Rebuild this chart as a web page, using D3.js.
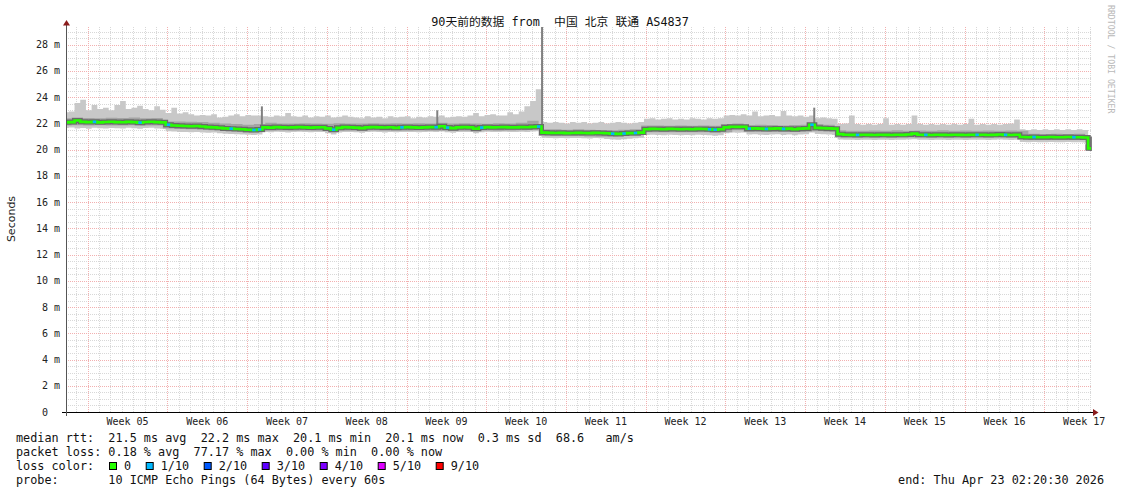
<!DOCTYPE html>
<html><head><meta charset="utf-8">
<script src="https://cdn.jsdelivr.net/npm/d3@7"></script>
<style>
body{margin:0;background:#fff}
svg{display:block}
text{white-space:pre}
</style>
</head><body>
<svg id="c" width="1121" height="494"></svg>
<script>
// ---------------- data ----------------
const chartTitle = "90天前的数据 from  中国 北京 联通 AS4837";
const yAxisTitle = "Seconds";
const watermark = "RRDTOOL / TOBI OETIKER";
const startTime = "2026-01-23T02:20:30Z";
const endTime = "2026-04-23T02:20:30Z";
const weekLabels = ["Week 05","Week 06","Week 07","Week 08","Week 09","Week 10","Week 11","Week 12","Week 13","Week 14","Week 15","Week 16","Week 17"];
const yTicks = [0,2,4,6,8,10,12,14,16,18,20,22,24,26,28];
const yMax = 29.35;

// 12-hour samples (ms)
const medianRtt = [
 22.08,22.10,22.22,22.12,22.10,22.12,22.08,22.11,22.13,22.10,
 22.09,22.12,22.10,22.06,22.11,22.13,22.10,22.08,21.90,21.84,
 21.82,21.80,21.78,21.80,21.76,21.72,21.70,21.66,21.62,21.60,
 21.57,21.55,21.52,21.50,21.54,21.70,21.68,21.72,21.70,21.69,
 21.70,21.72,21.70,21.68,21.70,21.71,21.62,21.52,21.66,21.72,
 21.70,21.68,21.64,21.70,21.72,21.70,21.69,21.71,21.66,21.70,
 21.72,21.70,21.68,21.70,21.72,21.71,21.78,21.68,21.64,21.70,
 21.72,21.70,21.60,21.68,21.72,21.70,21.71,21.72,21.70,21.70,
 21.72,21.71,21.74,21.76,21.30,21.28,21.27,21.28,21.26,21.27,
 21.28,21.27,21.26,21.28,21.27,21.25,21.22,21.20,21.23,21.26,
 21.27,21.30,21.56,21.58,21.57,21.56,21.58,21.57,21.55,21.57,
 21.56,21.58,21.57,21.55,21.52,21.55,21.70,21.75,21.74,21.75,
 21.60,21.62,21.60,21.58,21.60,21.62,21.58,21.60,21.55,21.60,
 21.62,21.90,21.66,21.64,21.62,21.60,21.18,21.14,21.13,21.12,
 21.14,21.13,21.12,21.14,21.13,21.12,21.14,21.13,21.15,21.22,
 21.14,21.13,21.12,21.14,21.13,21.12,21.14,21.13,21.12,21.14,
 21.13,21.14,21.12,21.13,21.15,21.13,21.12,21.14,20.96,20.95,
 20.96,20.94,20.95,20.96,20.95,20.94,20.96,20.95,20.94,20.93,20.10
];
const maxPing = [
 22.85,22.90,23.55,23.80,23.00,23.40,23.10,23.20,23.00,23.40,
 23.70,23.10,23.20,23.35,23.10,23.00,23.30,23.05,22.80,23.20,
 22.75,22.85,22.70,22.60,22.65,22.60,22.70,22.45,22.50,22.60,
 22.70,22.55,22.65,22.60,22.60,22.55,22.50,22.60,22.55,22.80,
 22.55,22.50,22.60,22.45,22.55,22.50,22.60,22.45,22.50,22.60,
 22.50,22.45,22.40,22.55,22.45,22.50,22.40,22.55,22.45,22.50,
 22.55,22.40,22.50,22.45,22.55,22.50,22.60,22.45,22.50,22.55,
 22.50,22.60,22.80,22.55,22.65,22.70,22.60,22.60,22.85,22.70,
 22.90,23.30,23.70,24.60,22.10,22.05,22.10,22.05,22.00,22.10,
 22.05,22.10,22.00,22.05,22.10,22.00,22.05,22.10,22.05,22.00,
 22.05,22.10,22.35,22.40,22.30,22.35,22.40,22.30,22.35,22.30,
 22.40,22.35,22.30,22.40,22.35,22.40,22.60,22.65,22.60,22.70,
 22.60,22.90,22.55,22.60,22.65,22.55,22.95,22.60,22.55,22.60,
 22.50,22.60,22.40,22.45,22.40,22.35,21.95,22.00,22.60,21.95,
 21.90,21.95,21.90,21.95,22.40,21.90,21.95,21.90,21.95,22.60,
 21.95,21.90,21.95,21.90,21.95,21.90,21.95,21.90,21.95,22.35,
 21.90,21.95,21.90,21.95,21.90,21.95,22.00,22.30,21.55,21.50,
 21.55,21.50,21.55,21.50,21.55,21.50,21.55,21.50,21.55,21.50,20.30
];
const minPing = [
 21.65,21.68,21.62,21.65,21.60,21.66,21.64,21.62,21.65,21.63,
 21.62,21.66,21.64,21.60,21.65,21.66,21.62,21.60,21.40,21.38,
 21.35,21.34,21.32,21.35,21.30,21.28,21.30,21.25,21.22,21.20,
 21.18,21.16,21.14,21.12,21.15,21.35,21.32,21.36,21.34,21.30,
 21.35,21.36,21.34,21.32,21.35,21.34,21.25,21.15,21.30,21.35,
 21.34,21.32,21.28,21.35,21.36,21.34,21.30,21.35,21.32,21.34,
 21.35,21.34,21.32,21.35,21.36,21.34,21.38,21.32,21.28,21.34,
 21.35,21.34,21.25,21.32,21.36,21.34,21.35,21.36,21.34,21.34,
 21.36,21.35,21.38,21.40,20.90,20.88,20.86,20.88,20.86,20.88,
 20.88,20.86,20.85,20.88,20.86,20.82,20.78,20.76,20.80,20.84,
 20.86,20.90,21.12,21.14,21.12,21.10,21.14,21.12,21.10,21.12,
 21.10,21.14,21.12,21.10,21.06,21.10,21.25,21.30,21.28,21.30,
 21.15,21.18,21.14,21.12,21.15,21.18,21.12,21.15,21.10,21.15,
 21.18,21.30,21.20,21.18,21.15,21.12,20.78,20.76,20.75,20.74,
 20.76,20.75,20.74,20.76,20.75,20.74,20.76,20.75,20.77,20.80,
 20.76,20.75,20.74,20.76,20.75,20.74,20.76,20.75,20.74,20.76,
 20.75,20.76,20.74,20.75,20.77,20.75,20.74,20.76,20.58,20.56,
 20.58,20.56,20.57,20.58,20.57,20.56,20.58,20.57,20.56,20.55,19.90
];
// daily samples (ms) of the inner smoke band
const upperSmoke = [
 22.40,22.45,22.42,22.40,22.44,22.42,22.45,22.40,22.42,22.15,
 22.15,22.12,22.10,22.05,22.00,21.95,21.90,21.95,22.05,22.00,
 22.00,22.02,22.00,21.98,22.02,22.00,22.00,22.02,22.00,22.02,
 22.00,22.02,22.00,22.05,22.00,22.02,22.00,21.98,22.02,22.00,
 22.05,22.20,21.55,21.55,21.52,21.55,21.52,21.50,21.48,21.52,
 21.55,21.85,21.85,21.82,21.85,21.82,21.85,21.82,21.95,22.00,
 21.88,21.90,21.88,21.85,21.88,21.90,21.95,21.90,21.48,21.45,
 21.45,21.46,21.45,21.48,21.45,21.46,21.45,21.47,21.45,21.46,
 21.45,21.46,21.45,21.46,21.45,21.22,21.20,21.22,21.20,21.22,20.40
];
const lowerSmoke = [
 21.85,21.86,21.84,21.86,21.85,21.84,21.86,21.85,21.84,21.62,
 21.58,21.56,21.52,21.48,21.44,21.40,21.30,21.32,21.45,21.46,
 21.45,21.46,21.44,21.45,21.46,21.45,21.44,21.46,21.45,21.46,
 21.45,21.46,21.44,21.45,21.46,21.45,21.44,21.46,21.45,21.46,
 21.48,21.50,21.05,21.04,21.05,21.04,21.00,20.98,21.00,21.04,
 21.05,21.32,21.33,21.32,21.33,21.32,21.33,21.30,21.32,21.48,
 21.35,21.36,21.35,21.34,21.35,21.36,21.40,21.36,20.92,20.92,
 20.92,20.93,20.92,20.93,20.92,20.93,20.92,20.93,20.92,20.93,
 20.92,20.93,20.92,20.93,20.92,20.74,20.73,20.74,20.73,20.74,19.95
];
// 12-hour sample indices with 1/10 packet loss
const lossOneTenth = [5,13,18,29,33,34,47,59,65,67,73,83,96,98,100,113,114,120,123,126,131,139,151,160,165,170,177];
// short dark smoke spikes (days since start, ms)
const spikeDay  = [17.2, 32.6, 41.8, 65.7, 90.0];
const spikeTop  = [23.3, 23.0, 40.0, 23.2, 21.0];
const spikeBase = [21.5, 21.7, 21.3, 21.6, 19.9];

const legendLines = [
 "median rtt:  21.5 ms avg  22.2 ms max  20.1 ms min  20.1 ms now  0.3 ms sd  68.6   am/s",
 "packet loss: 0.18 % avg  77.17 % max  0.00 % min  0.00 % now",
 "loss color:",
 "probe:       10 ICMP Echo Pings (64 Bytes) every 60s"
];
const lossLabels = ["0","1/10","2/10","3/10","4/10","5/10","9/10"];
const lossColors = ["#26ff00","#00b8ff","#0059ff","#5e00ff","#7e00ff","#dd00ff","#ff0000"];
const endLabel = "end: Thu Apr 23 02:20:30 2026";

// ---------------- drawing ----------------
const svg = d3.select("#c");
const mono = "'DejaVu Sans Mono', 'Noto Sans CJK SC', monospace";
const t0 = new Date(startTime), t1 = new Date(endTime);
const L = 66, R = 1091, B = 412, T = 27;
const x = d3.scaleUtc().domain([t0, t1]).range([L, R]);
const y = d3.scaleLinear().domain([0, yMax]).range([B, T]);
const HOUR = 3600e3;
const at12 = i => new Date(+t0 + i * 12 * HOUR);
const atDay = d => new Date(+t0 + d * 24 * HOUR);

svg.append("defs").append("clipPath").attr("id","plot")
  .append("rect").attr("x",L).attr("y",T).attr("width",R-L+1).attr("height",B-T);

// grid
const g = svg.append("g").attr("shape-rendering","crispEdges");
const minorCol = "#d8d8d8", majorCol = "#f2b0b0";
const minorY = d3.range(0.5, yMax, 0.5).filter(v => Math.abs(v/2 - Math.round(v/2)) > 1e-6);
g.selectAll(".hmin").data(minorY).join("line")
  .attr("x1",L).attr("x2",R+1).attr("y1",d=>Math.round(y(d))+0.5).attr("y2",d=>Math.round(y(d))+0.5)
  .attr("stroke",minorCol).attr("stroke-dasharray","1,1");
const days = d3.utcDay.range(t0, t1);
g.selectAll(".vmin").data(days).join("line")
  .attr("x1",d=>Math.round(x(d))+0.5).attr("x2",d=>Math.round(x(d))+0.5).attr("y1",T).attr("y2",B)
  .attr("stroke",minorCol).attr("stroke-dasharray","1,1");
g.selectAll(".hmaj").data(yTicks.filter(v=>v>0)).join("line")
  .attr("x1",L).attr("x2",R+1).attr("y1",d=>Math.round(y(d))+0.5).attr("y2",d=>Math.round(y(d))+0.5)
  .attr("stroke",majorCol).attr("stroke-dasharray","1,1");
const sundays = d3.utcSunday.range(t0, t1);
g.selectAll(".vmaj").data(sundays).join("line")
  .attr("x1",d=>Math.round(x(d))+0.5).attr("x2",d=>Math.round(x(d))+0.5).attr("y1",T).attr("y2",B)
  .attr("stroke",majorCol).attr("stroke-dasharray","1,1");

// smoke
const plot = svg.append("g").attr("clip-path","url(#plot)");
const idx12 = d3.range(medianRtt.length);
const outer = d3.area().curve(d3.curveStep)
  .x(i=>x(at12(i))).y0(i=>y(minPing[i])).y1(i=>y(maxPing[i]));
plot.append("path").attr("d", outer(idx12)).attr("fill","#c8c8c8");
const idxDay = d3.range(upperSmoke.length);
const inner = d3.area().curve(d3.curveStep)
  .x(d=>x(atDay(d))).y0(d=>y(lowerSmoke[d])).y1(d=>y(upperSmoke[d]));
plot.append("path").attr("d", inner(idxDay)).attr("fill","#a4a4a4");
plot.selectAll(".spike").data(spikeDay).join("line")
  .attr("x1",d=>x(atDay(d))).attr("x2",d=>x(atDay(d)))
  .attr("y1",(d,i)=>y(spikeBase[i])).attr("y2",(d,i)=>y(spikeTop[i]))
  .attr("stroke","#808080").attr("stroke-width",2);

// median line
const medLine = d3.line().curve(d3.curveStep).x(i=>x(at12(i))).y(i=>y(medianRtt[i]));
plot.append("path").attr("d", medLine(idx12)).attr("fill","none")
  .attr("stroke","#6a6a6a").attr("stroke-width",5);
plot.append("path").attr("d", medLine(idx12)).attr("fill","none")
  .attr("stroke",lossColors[0]).attr("stroke-width",2.6);
plot.selectAll(".loss").data(lossOneTenth).join("line")
  .attr("x1",i=>x(at12(i-0.3))).attr("x2",i=>x(at12(i+0.3)))
  .attr("y1",i=>y(medianRtt[i])).attr("y2",i=>y(medianRtt[i]))
  .attr("stroke",lossColors[1]).attr("stroke-width",2.6);

// axes
svg.append("line").attr("x1",62).attr("x2",1093).attr("y1",B+0.5).attr("y2",B+0.5).attr("stroke","#000");
svg.append("line").attr("x1",L+0.5).attr("x2",L+0.5).attr("y1",B+4).attr("y2",T-3).attr("stroke","#555");
svg.append("path").attr("d",`M${L-3},${T-1.5} L${L+4},${T-1.5} L${L+0.5},${T-7} Z`).attr("fill","#8b1c1c");
svg.append("path").attr("d",`M1093,${B-3} L1093,${B+4} L1098.5,${B+0.5} Z`).attr("fill","#8b1c1c");

// y labels
svg.selectAll(".ylab").data(yTicks).join("text")
  .attr("x",60).attr("y",d=>y(d)).attr("dy","0.35em").attr("text-anchor","end")
  .attr("font-family",mono).attr("font-size",10).attr("fill","#222")
  .text(d => d===0 ? "0  " : d+" m");

// x labels
svg.selectAll(".xlab").data(sundays).join("text")
  .attr("x",d=>x(new Date(+d + 3.5*24*HOUR))).attr("y",425).attr("text-anchor","middle")
  .attr("font-family",mono).attr("font-size",10).attr("fill","#222")
  .text((d,i)=>weekLabels[i]);

// titles
svg.append("text").attr("x",560).attr("y",26).attr("text-anchor","middle")
  .attr("font-family",mono).attr("font-size",11.8).attr("fill","#111").text(chartTitle);
svg.append("text").attr("transform","translate(15,219) rotate(-90)").attr("text-anchor","middle")
  .attr("font-family","'DejaVu Sans', sans-serif").attr("font-size",11).attr("fill","#222").text(yAxisTitle);
svg.append("text").attr("transform","translate(1108,5) rotate(90)")
  .attr("font-family",mono).attr("font-size",8.2).attr("fill","#b8b8b8").text(watermark);

// legend
svg.selectAll(".leg").data(legendLines).join("text")
  .attr("x",16).attr("y",(d,i)=>441.5+i*14)
  .attr("font-family",mono).attr("font-size",11.8).attr("fill","#111").text(d=>d);
let lx = 109;
lossLabels.forEach((lab,i)=>{
  svg.append("rect").attr("x",lx+0.5).attr("y",462.5).attr("width",7).attr("height",7)
    .attr("fill",lossColors[i]).attr("stroke","#000");
  svg.append("text").attr("x",lx+15).attr("y",469.5)
    .attr("font-family",mono).attr("font-size",11.8).attr("fill","#111").text(lab);
  lx += 15 + lab.length*7.1 + 14.6;
});
svg.append("text").attr("x",1104).attr("y",483.5).attr("text-anchor","end")
  .attr("font-family",mono).attr("font-size",11.8).attr("fill","#111").text(endLabel);
</script>
</body></html>
